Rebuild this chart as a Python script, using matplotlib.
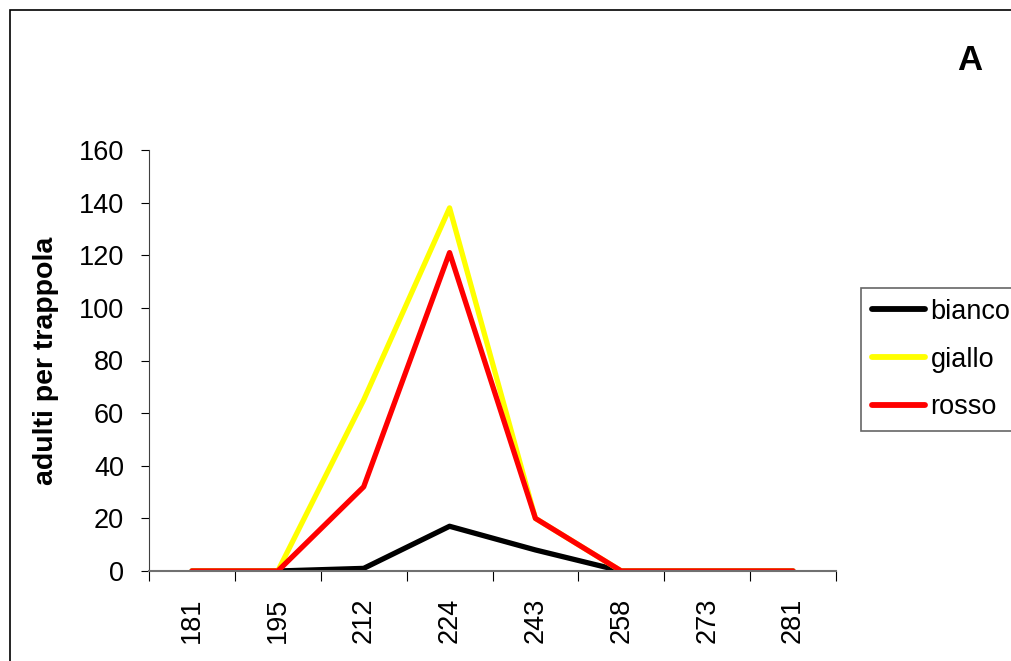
import matplotlib
matplotlib.use("Agg")
import matplotlib.pyplot as plt
from matplotlib.patches import Rectangle

plt.rcParams["font.family"] = ["Liberation Sans", "DejaVu Sans"]

# Dati
giorni = ["181", "195", "212", "224", "243", "258", "273", "281"]
bianco = [0, 0, 1, 17, 8, 0, 0, 0]
giallo = [0, 0, 65, 138, 20, 0, 0, 0]
rosso = [0, 0, 32, 121, 20, 0, 0, 0]

fig = plt.figure(figsize=(10.11, 6.61), dpi=100)

# cornice esterna (tagliata a destra e in basso)
fig.patches.append(Rectangle((10 / 1011, -0.1), 1.2, 1 - 10 / 661 + 0.1,
                             transform=fig.transFigure, fill=False,
                             edgecolor="black", lw=1.2))

ax = fig.add_axes([149 / 1011, 1 - 571 / 661, 687 / 1011, 421 / 661])
x = range(len(giorni))
ax.plot(x, bianco, color="black", lw=3.8, label="bianco", solid_capstyle="round")
ax.plot(x, giallo, color="#FFFF00", lw=3.8, label="giallo", solid_capstyle="round")
ax.plot(x, rosso, color="#FF0000", lw=3.8, label="rosso", solid_capstyle="round")

ax.set_xlim(-0.5, len(giorni) - 0.5)
ax.set_ylim(0, 160)
ax.set_yticks(range(0, 161, 20))
ax.tick_params(axis="y", labelsize=19.5, length=6, direction="out", pad=12)
ax.set_xticks([i - 0.5 for i in range(len(giorni) + 1)])
ax.set_xticklabels([])
ax.set_xticks(list(x), minor=True)
ax.set_xticklabels(giorni, minor=True, rotation=90, fontsize=19.5)
ax.tick_params(axis="x", which="major", length=7, direction="out")
ax.tick_params(axis="x", which="minor", length=0, pad=19)
for s in ["top", "right"]:
    ax.spines[s].set_visible(False)
ax.spines["left"].set_color("#404040")
ax.spines["bottom"].set_color("#707070")
ax.spines["bottom"].set_linewidth(1.5)
ax.set_ylabel("adulti per trappola", fontsize=20.5, fontweight="bold", labelpad=14)

leg = fig.legend(loc="upper left", bbox_to_anchor=(861 / 1011, 1 - 288 / 661),
                 fontsize=19.5, frameon=True, fancybox=False, handlelength=1.95,
                 handletextpad=0.22, borderpad=0.4, labelspacing=0.8,
                 borderaxespad=0)
leg.get_frame().set_edgecolor("#404040")
leg.get_frame().set_linewidth(1.2)
for h in leg.get_lines():
    h.set_linewidth(4.2)

fig.text(970 / 1011, 1 - 61 / 661, "A", fontsize=25, fontweight="bold",
         ha="center", va="center")

fig.savefig("out.png", dpi=100)
